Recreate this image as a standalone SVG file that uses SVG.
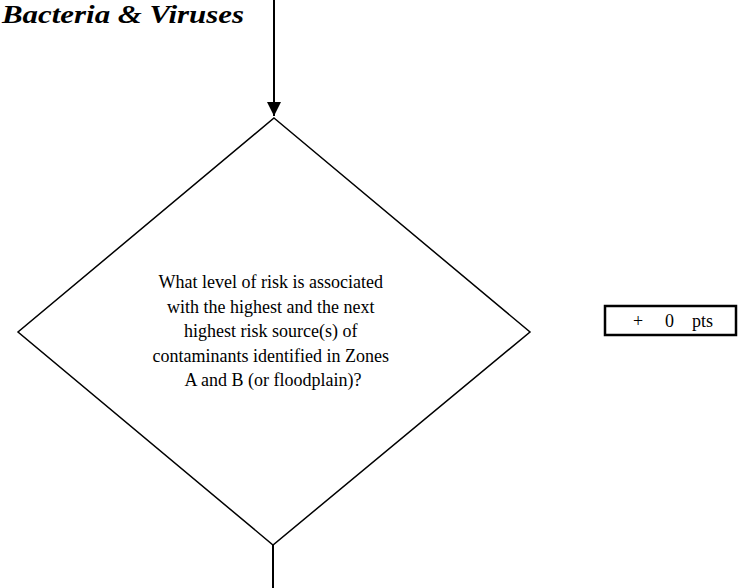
<svg xmlns="http://www.w3.org/2000/svg" width="744" height="588" viewBox="0 0 744 588">
  <style>
    .line { stroke: #000; stroke-width: 2; fill: none; }
    .shape { stroke: #000; stroke-width: 1.5; fill: #fff; }
    .body { font-family: "Liberation Serif", "Times New Roman", serif; font-size: 18px; fill: #000; }
    .title { font-family: "Liberation Serif", "Times New Roman", serif; font-size: 26px; font-weight: bold; font-style: italic; fill: #000; }
  </style>
  <defs>
    <marker id="arrow" viewBox="0 0 14 16" refX="14" refY="7" markerWidth="14" markerHeight="16" markerUnits="userSpaceOnUse" orient="auto">
      <path d="M0,0 L14,7 L0,14 Z" fill="#000"/>
    </marker>
  </defs>

  <text class="title" x="2" y="23" textLength="242" lengthAdjust="spacingAndGlyphs">Bacteria &amp; Viruses</text>

  <g id="connectors">
    <line class="line" x1="274" y1="0" x2="274" y2="116" marker-end="url(#arrow)"/>
    <line class="line" x1="273" y1="545" x2="273" y2="588"/>
  </g>

  <g id="decision">
    <polygon class="shape" points="274,118 530,332 273,545 18,332"/>
    <text class="body" text-anchor="middle">
      <tspan x="273" y="288">What level of risk is associated</tspan>
      <tspan x="273" y="312.5">with the highest and the next</tspan>
      <tspan x="273" y="337">highest risk source(s) of</tspan>
      <tspan x="273" y="361.5">contaminants identified in Zones</tspan>
      <tspan x="273" y="386">A and B (or floodplain)?</tspan>
    </text>
  </g>

  <g id="points">
    <rect x="605" y="306" width="131" height="29" fill="#fff" stroke="#000" stroke-width="2.5"/>
    <text class="body" x="633" y="327">+</text>
    <text class="body" x="665" y="327">0</text>
    <text class="body" x="692" y="327">pts</text>
  </g>
</svg>
